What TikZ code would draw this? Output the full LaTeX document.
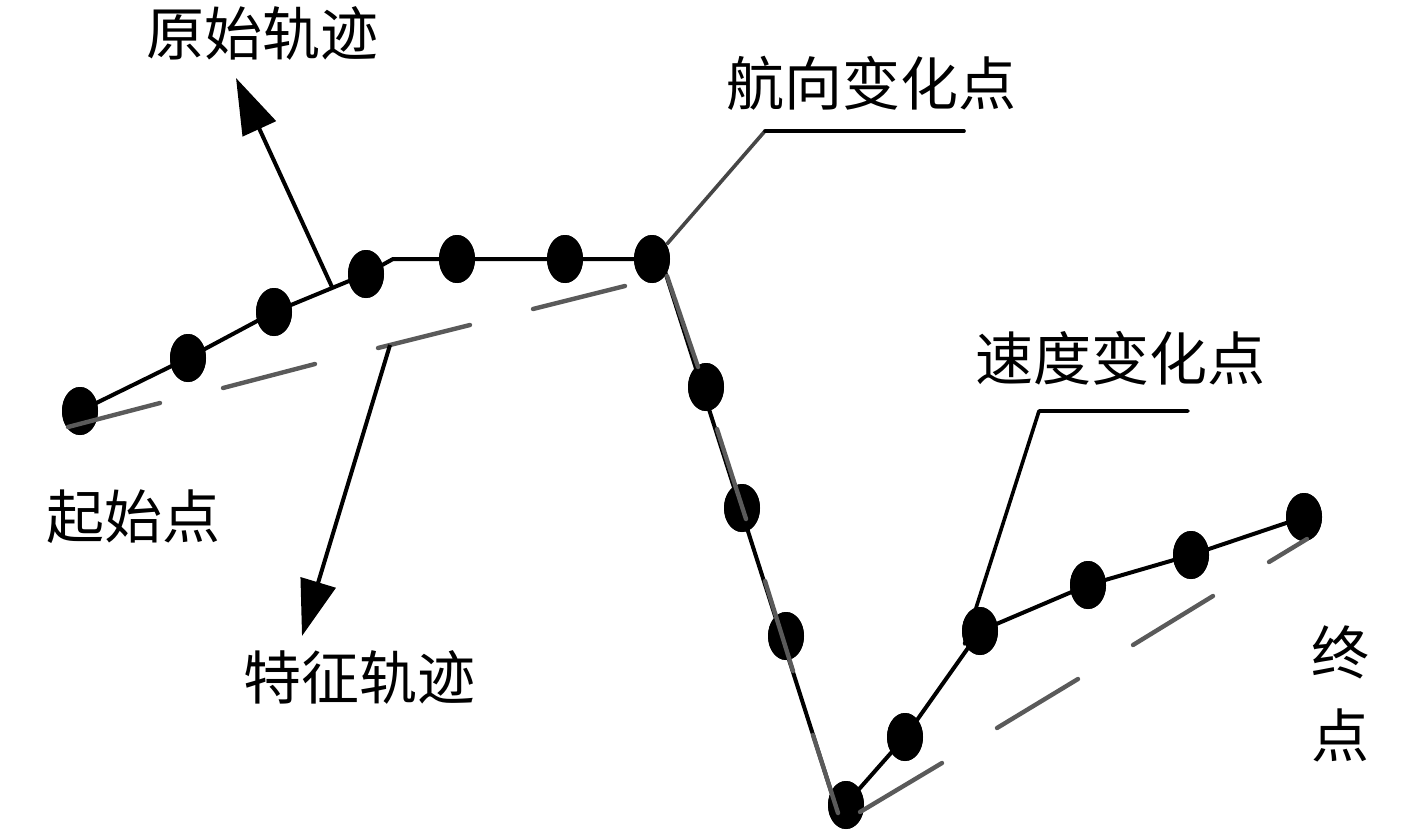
\documentclass[tikz,border=0pt]{standalone}
\usepackage{fontspec}
\newfontfamily\cjk{Noto Sans CJK SC}
\usetikzlibrary{shapes.geometric,arrows.meta}
\definecolor{featgray}{RGB}{90,90,90}
\definecolor{leadgray}{RGB}{70,70,70}
\begin{document}
\begin{tikzpicture}[x=0.5pt,y=-0.5pt,
  trkpt/.style={ellipse,fill=black,draw=none,inner sep=0pt,minimum width=18pt,minimum height=24pt},
  orig/.style={line width=2pt,black,line join=round},
  feat/.style={line width=2.2pt,featgray,line cap=round},
  leadline/.style={line width=1.8pt},
  pointer/.style={line width=2pt,-{Triangle[length=28pt,width=18pt]}},
  lbl/.style={font=\cjk\fontsize{29}{34}\selectfont,inner sep=0pt}]
\useasboundingbox (0,0) rectangle (1417,834);

% trajectory points
\node[trkpt] (p1) at (80,411) {};
\node[trkpt] (p2) at (188,358) {};
\node[trkpt] (p3) at (274,312) {};
\node[trkpt] (p4) at (366,274) {};
\node[trkpt] (p5) at (457,259) {};
\node[trkpt] (p6) at (565,259) {};
\node[trkpt] (p7) at (652,259) {};
\node[trkpt] (p8) at (706,387) {};
\node[trkpt] (p9) at (742,508) {};
\node[trkpt] (p10) at (786,636) {};
\node[trkpt] (p11) at (846,805) {};
\node[trkpt] (p12) at (905,737) {};
\node[trkpt] (p13) at (980,631) {};
\node[trkpt] (p14) at (1088,585) {};
\node[trkpt] (p15) at (1191,555) {};
\node[trkpt] (p16) at (1304,517) {};

\coordinate (bend) at (393,259);
\coordinate (d0) at (661,259);
\coordinate (d1) at (838,813);

% original trajectory
\draw[orig] (p1.center) -- (p2.center) -- (p3.center) -- (p4.center) -- (bend) -- (p5.center) -- (p6.center) -- (p7.center);
\draw[orig] (d0) -- (d1) -- (p12.center) -- (p13.center) -- (p14.center) -- (p15.center) -- (p16.center);

% redraw points on top of the line
\foreach \p in {(80,411),(188,358),(274,312),(366,274),(457,259),(565,259),(652,259),(706,387),(742,508),(786,636),(846,805),(905,737),(980,631),(1088,585),(1191,555),(1304,517)}
  \fill[black] \p ellipse[x radius=18,y radius=24];

% feature trajectory (dashed, on top)
\draw[feat] (68,427) -- (160,403);
\draw[feat] (223,388) -- (315,364);
\draw[feat] (378,348) -- (470,325);
\draw[feat] (533,309) -- (625,286);
\draw[feat] (667,276) -- (698,367);
\draw[feat] (717,429) -- (746,519);
\draw[feat] (765,581) -- (793,671);
\draw[feat] (813,735) -- (838,813);
\draw[feat] (860,812) -- (942,763);
\draw[feat] (997,728) -- (1078,679);
\draw[feat] (1133,645) -- (1213,596);
\draw[feat] (1269,562) -- (1307,539);

% labels
\node[lbl] (lorig) at (262,33) {原始轨迹};
\node[lbl] (lhead) at (871,83) {航向变化点};
\node[lbl] (lspeed) at (1120,358) {速度变化点};
\node[lbl] (lstart) at (133,517) {起始点};
\node[lbl] (lfeat) at (359,677) {特征轨迹};
\node[lbl] (lend1) at (1340,652) {终};
\node[lbl] (lend2) at (1340,735) {点};

% pointers
\coordinate (a1s) at (332,287);
\coordinate (a1e) at (236,78);
\coordinate (a2s) at (390,345);
\coordinate (a2e) at (302,636);
\draw[pointer] (a1s) -- (a1e);
\draw[pointer] (a2s) -- (a2e);

% leader lines
\coordinate (h1) at (765,131);
\coordinate (h1e) at (964,131);
\draw[leadline,leadgray] (p7.45) -- (h1);
\draw[leadline,black,line cap=round] (h1) -- (h1e);
\coordinate (h2) at (1039,411);
\coordinate (h2e) at (1188,411);
\draw[leadline,black,line join=round,line cap=round] (p13.220) -- (h2) -- (h2e);
\end{tikzpicture}
\end{document}
